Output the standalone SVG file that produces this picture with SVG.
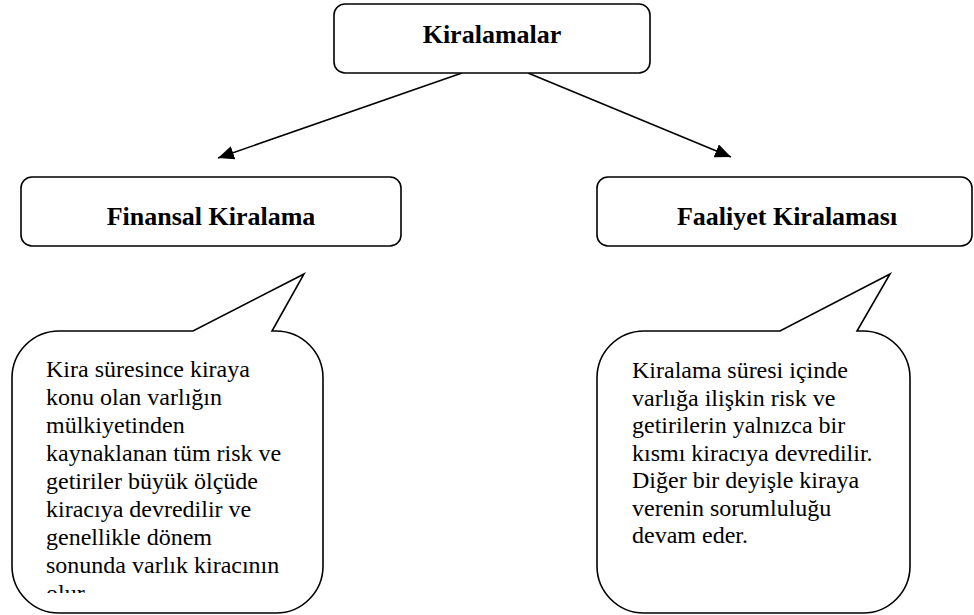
<svg xmlns="http://www.w3.org/2000/svg" width="974" height="615" viewBox="0 0 974 615">
  <style>
    .box { fill: #ffffff; stroke: #000000; stroke-width: 1.6; }
    .title { font-family: "Liberation Serif", "Times New Roman", serif; font-weight: bold; font-size: 26px; fill: #000000; text-anchor: middle; }
    .body { font-family: "Liberation Serif", "Times New Roman", serif; font-size: 24px; fill: #000000; }
    .conn { stroke: #000000; stroke-width: 1.6; fill: none; }
  </style>
  <defs>
    <marker id="arrow" markerUnits="userSpaceOnUse" markerWidth="18" markerHeight="14" refX="16" refY="7" orient="auto">
      <path d="M0,0 L16,7 L0,14 Z" fill="#000000"/>
    </marker>
    <clipPath id="clipLeft">
      <rect x="12" y="331" width="311" height="262"/>
    </clipPath>
  </defs>
  <rect width="974" height="615" fill="#ffffff"/>

  <g id="connectors">
    <line class="conn" x1="462" y1="73" x2="218" y2="158" marker-end="url(#arrow)"/>
    <line class="conn" x1="528" y1="73" x2="731" y2="157" marker-end="url(#arrow)"/>
  </g>

  <g id="kiralamalar">
    <rect class="box" x="334" y="4" width="316" height="69" rx="11" ry="11"/>
    <text class="title" x="492" y="43">Kiralamalar</text>
  </g>

  <g id="finansal-kiralama">
    <rect class="box" x="21" y="177" width="380" height="69" rx="11" ry="11"/>
    <text class="title" x="211" y="225">Finansal Kiralama</text>
  </g>

  <g id="faaliyet-kiralamasi">
    <rect class="box" x="597" y="177" width="375" height="69" rx="11" ry="11"/>
    <text class="title" x="787" y="225">Faaliyet Kiralaması</text>
  </g>

  <g id="callout-finansal">
    <path class="box" d="M59,331 H193 L304,274 L272,331 H276 A47,47 0 0 1 323,378 V566 A47,47 0 0 1 276,613 H59 A47,47 0 0 1 12,566 V378 A47,47 0 0 1 59,331 Z"/>
    <g clip-path="url(#clipLeft)">
      <text class="body" x="46" y="377">Kira süresince kiraya</text>
      <text class="body" x="46" y="405">konu olan varlığın</text>
      <text class="body" x="46" y="433">mülkiyetinden</text>
      <text class="body" x="46" y="461">kaynaklanan tüm risk ve</text>
      <text class="body" x="46" y="489">getiriler büyük ölçüde</text>
      <text class="body" x="46" y="517">kiracıya devredilir ve</text>
      <text class="body" x="46" y="545">genellikle dönem</text>
      <text class="body" x="46" y="573">sonunda varlık kiracının</text>
      <text class="body" x="46" y="601">olur.</text>
    </g>
  </g>

  <g id="callout-faaliyet">
    <path class="box" d="M644,331 H780 L890,274 L857,331 H863 A47,47 0 0 1 910,378 V566 A47,47 0 0 1 863,613 H644 A47,47 0 0 1 597,566 V378 A47,47 0 0 1 644,331 Z"/>
    <text class="body" x="632" y="378">Kiralama süresi içinde</text>
    <text class="body" x="632" y="405.5">varlığa ilişkin risk ve</text>
    <text class="body" x="632" y="433">getirilerin yalnızca bir</text>
    <text class="body" x="632" y="460.5">kısmı kiracıya devredilir.</text>
    <text class="body" x="632" y="488">Diğer bir deyişle kiraya</text>
    <text class="body" x="632" y="515.5">verenin sorumluluğu</text>
    <text class="body" x="632" y="543">devam eder.</text>
  </g>
</svg>
